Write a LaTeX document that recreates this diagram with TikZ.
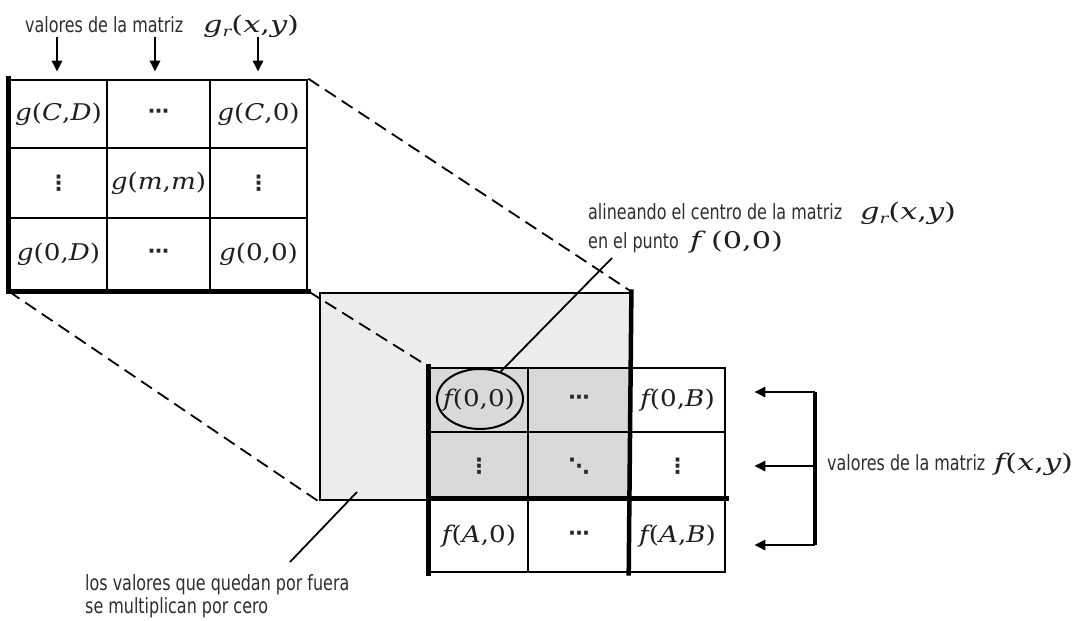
\documentclass[tikz,border=0pt]{standalone}
\usepackage{fontspec}
\usetikzlibrary{shapes.geometric,arrows.meta}
\newfontfamily\lab[FakeStretch=0.76]{DejaVu Sans}
\newfontfamily\mth[FakeStretch=1.14]{DejaVu Serif}
\newfontfamily\mthw[FakeStretch=1.32]{DejaVu Serif}
\newfontfamily\dotsfont{DejaVu Sans}
\newcommand\mi[1]{{\itshape #1}}
\newcommand\grsub{\mi{g}\lower4pt\hbox{\fontsize{14}{14}\selectfont\itshape r}}
\definecolor{lightshade}{HTML}{ECECEC}
\definecolor{darkshade}{HTML}{D9D9D9}
\tikzset{
  cell/.style={draw, line width=2.6pt, inner sep=0pt, fill=white,
    font=\mth\fontsize{23}{23}\selectfont, text=black!88},
  dcell/.style={cell, fill=darkshade},
  dotcell/.style={font=\dotsfont\bfseries\fontsize{21}{21}\selectfont, text=black!85},
  heavy/.style={line width=4.5pt, line cap=rect},
  dline/.style={line width=1.8pt, dash pattern=on 13pt off 7pt},
  lead/.style={line width=1.8pt},
  arr/.style={line width=2.6pt, -{Triangle[length=11pt,width=10pt]}},
  bar/.style={line width=3.2pt},
  lbl/.style={inner sep=0pt, anchor=base west, text=black!82,
    font=\lab\fontsize{21}{21}\selectfont},
  mlbl/.style={inner sep=0pt, anchor=base west, text=black!88,
    font=\mthw\fontsize{23}{23}\selectfont},
  ell/.style={draw, ellipse, line width=2pt, inner sep=0pt,
    minimum width=86, minimum height=60}
}
\begin{document}
\begin{tikzpicture}[x=1pt,y=-1pt]
\useasboundingbox[fill=white] (0,0) rectangle (1088,621);

% gray region
\node[draw, line width=2.8pt, fill=lightshade, inner sep=0pt,
  minimum width=310, minimum height=207] (shade) at (475,396.5) {};

% matrix g
\node[cell, minimum width=97,  minimum height=68] (g11) at (58.5,114) {\mi{g}(\mi{C},\mi{D})};
\node[cell, dotcell, minimum width=103, minimum height=68] (g12) at (158.5,114) {⋯};
\node[cell, minimum width=97,  minimum height=68] (g13) at (258.5,114) {\mi{g}(\mi{C},0)};
\node[cell, dotcell, minimum width=97,  minimum height=70] (g21) at (58.5,183) {⋮};
\node[cell, minimum width=103, minimum height=70] (g22) at (158.5,183) {\mi{g}(\mi{m},\mi{m})};
\node[cell, dotcell, minimum width=97,  minimum height=70] (g23) at (258.5,183) {⋮};
\node[cell, minimum width=97,  minimum height=72] (g31) at (58.5,254) {\mi{g}(0,\mi{D})};
\node[cell, dotcell, minimum width=103, minimum height=72] (g32) at (158.5,254) {⋯};
\node[cell, minimum width=97,  minimum height=72] (g33) at (258.5,254) {\mi{g}(0,0)};
\draw[heavy] (g11.north west) -- (g31.south west) -- (g33.south east);

% matrix f
\node[dcell, minimum width=98,  minimum height=64] (f11) at (479,400) {\mi{f}(0,0)};
\node[dcell, dotcell, minimum width=102, minimum height=64] (f12) at (579,400) {⋯};
\node[cell,  minimum width=95,  minimum height=64] (f13) at (677.5,400) {\mi{f}(0,\mi{B})};
\node[dcell, dotcell, minimum width=98,  minimum height=68] (f21) at (479,466) {⋮};
\node[dcell, dotcell, minimum width=102, minimum height=68] (f22) at (579,466) {⋱};
\node[cell, dotcell, minimum width=95,  minimum height=68] (f23) at (677.5,466) {⋮};
\node[cell,  minimum width=98,  minimum height=72] (f31) at (479,536) {\mi{f}(\mi{A},0)};
\node[cell, dotcell, minimum width=102, minimum height=72] (f32) at (579,536) {⋯};
\node[cell,  minimum width=95,  minimum height=72] (f33) at (677.5,536) {\mi{f}(\mi{A},\mi{B})};
\draw[heavy] (f11.north west) -- (f31.south west);
\draw[heavy] (shade.north east) -- (f33.south west);
\draw[heavy] (f31.north west) -- (f33.north east);

% projection lines
\draw[dline] (g13.north east) -- (shade.north east);
\draw[dline] (g31.south west) -- (shade.south west);
\draw[dline] (g33.south east) -- (f11.north west);

% circled origin
\node[ell] (ell) at (480,399) {};

% top labels and arrows
\node[lbl] (ltop) at (25,32) {valores de la matriz};
\node[mlbl] (ltopg) at (203,32) {\grsub(\mi{x},\mi{y})};
\coordinate (ta1) at (57,37);
\coordinate (ta2) at (155,37);
\coordinate (ta3) at (258,37);
\draw[arr, shorten >=7pt] (ta1) -- (ta1 |- g11.north);
\draw[arr, shorten >=7pt] (ta2) -- (ta2 |- g12.north);
\draw[arr, shorten >=7pt] (ta3) -- (ta3 |- g13.north);

% annotation: alignment
\node[lbl] (ann1) at (588,219) {alineando el centro de la matriz};
\node[mlbl] (ann1g) at (860,219) {\grsub(\mi{x},\mi{y})};
\node[lbl] (ann2) at (588,248) {en el punto};
\node[mlbl] (ann2f) at (690,248) {\mi{f} (0,0)};
\coordinate (annpt) at (612,258);
\draw[lead] (annpt) -- (ell.53);

% right bracket
\coordinate (b1) at (815,392);
\coordinate (b2) at (815,466);
\coordinate (b3) at (815,545);
\draw[bar] (b1) -- (b3);
\draw[arr, shorten >=28pt] (b1) -- (b1 -| f13.east);
\draw[arr, shorten >=28pt] (b2) -- (b2 -| f23.east);
\draw[arr, shorten >=28pt] (b3) -- (b3 -| f33.east);
\node[lbl] (flab) at (827,470) {valores de la matriz};
\node[mlbl] (flabf) at (994,470) {\mi{f}(\mi{x},\mi{y})};

% annotation: outside values
\coordinate (shpt) at (357,492);
\coordinate (lowpt) at (290,562);
\draw[lead] (lowpt) -- (shpt);
\node[lbl] (low1) at (85,590) {los valores que quedan por fuera};
\node[lbl] (low2) at (85,613) {se multiplican por cero};
\end{tikzpicture}
\end{document}
